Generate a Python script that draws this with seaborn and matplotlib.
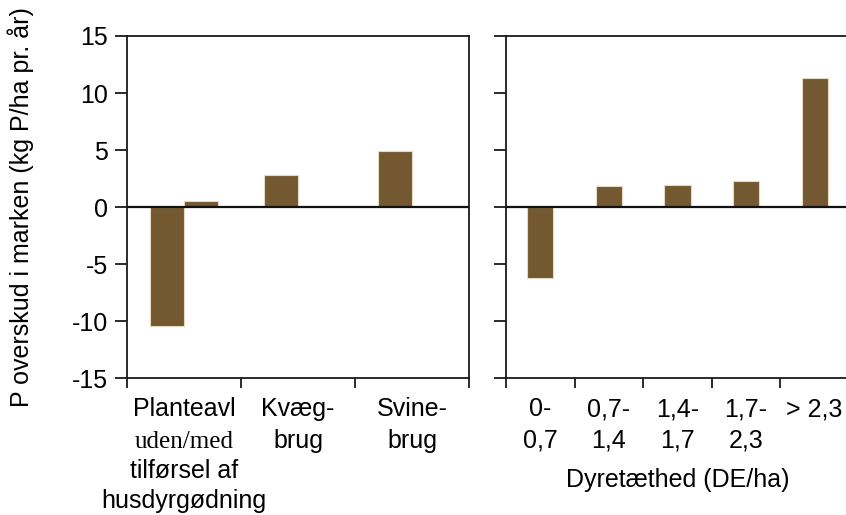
import matplotlib
matplotlib.use('Agg')
import matplotlib.pyplot as plt
import seaborn as sns
import pandas as pd

# Data
bedrift = ['Planteavl', 'Planteavl', 'Kvæg', 'Svine']
serie = ['uden', 'med', 'uden', 'uden']
overskud_bedrift = [-10.4, 0.5, 2.8, 4.9]
bedrift_labels = ['Planteavl', 'Kvæg-\nbrug', 'Svine-\nbrug']
# ekstra linjer under "Planteavl" (tekst, skrift)
planteavl_linjer = [('uden/med', 'serif'), ('tilførsel af', 'sans'), ('husdyrgødning', 'sans')]

dyretaethed = ['0-0,7', '0,7-1,4', '1,4-1,7', '1,7-2,3', '> 2,3']
overskud_dyr = [-6.2, 1.8, 1.9, 2.3, 11.3]
dyr_labels = ['0-\n0,7', '0,7-\n1,4', '1,4-\n1,7', '1,7-\n2,3', '> 2,3']

yticks = [-15, -10, -5, 0, 5, 10, 15]
brun = '#735830'
fs = 18

sns.set_theme(style='ticks')
plt.rcParams['font.family'] = ['Liberation Sans', 'DejaVu Sans']
plt.rcParams['axes.unicode_minus'] = False
plt.rcParams['axes.edgecolor'] = '#1a1a1a'
plt.rcParams['axes.linewidth'] = 1.3
plt.rcParams['text.color'] = 'black'
plt.rcParams['axes.labelcolor'] = 'black'
plt.rcParams['xtick.color'] = '#1a1a1a'
plt.rcParams['ytick.color'] = '#1a1a1a'
plt.rcParams['xtick.labelcolor'] = 'black'
plt.rcParams['ytick.labelcolor'] = 'black'

df1 = pd.DataFrame({'bedrift': bedrift, 'serie': serie, 'overskud': overskud_bedrift})
df2 = pd.DataFrame({'dyr': dyretaethed, 'overskud': overskud_dyr})

fig = plt.figure(figsize=(8.46, 5.15), dpi=100)
ax1 = fig.add_axes([0.1501, 0.2660, 0.4043, 0.6641])
ax2 = fig.add_axes([0.5981, 0.2660, 0.4054, 0.6641])

sns.barplot(data=df1, x='bedrift', y='overskud', hue='serie', hue_order=['uden', 'med'],
            palette=[brun, brun], width=0.59, ax=ax1, legend=False,
            edgecolor='#e6dac6', linewidth=0.8, errorbar=None)
sns.barplot(data=df2, x='dyr', y='overskud', color=brun, width=0.38, ax=ax2,
            edgecolor='#e6dac6', linewidth=0.8, errorbar=None, saturation=1)
for p in ax1.patches:
    p.set_facecolor(brun)

for ax, labels in [(ax1, bedrift_labels), (ax2, dyr_labels)]:
    n = len(labels)
    ax.set_xlim(-0.5, n - 0.5)
    ax.set_ylim(-15, 15)
    ax.set_yticks(yticks)
    ax.set_xticks([i - 0.5 for i in range(n + 1)])
    ax.set_xticklabels([])
    ax.set_xticks(range(n), minor=True)
    ax.set_xticklabels(labels, minor=True, fontsize=fs, linespacing=1.38)
    ax.tick_params(axis='x', which='major', length=7.5, width=1.3, direction='out')
    ax.tick_params(axis='x', which='minor', length=0, pad=14)
    ax.tick_params(axis='y', length=8.5, width=1.3, labelsize=fs, pad=5)
    ax.axhline(0, color='#111111', lw=1.6, zorder=3)
    for s in ax.spines.values():
        s.set_visible(True)
    ax.set_xlabel('')
    ax.set_ylabel('')

ax2.set_yticklabels([])

# resten af "Planteavl"-etiketten; 'uden/med' står med serif-skrift i originalen
for i, (tekst, skrift) in enumerate(planteavl_linjer):
    fam = ['Liberation Serif', 'DejaVu Serif'] if skrift == 'serif' else ['Liberation Sans', 'DejaVu Sans']
    ax1.annotate(tekst, xy=(0, 0), xycoords=('data', 'axes fraction'),
                 xytext=(0, -50.4 - 21.6 * i), textcoords='offset points',
                 ha='center', va='baseline', fontsize=fs, family=fam)

ax1.set_ylabel('P overskud i marken (kg P/ha pr. år)', fontsize=fs)
ax1.yaxis.set_label_coords(-0.272, 0.5)
ax2.set_xlabel('Dyretæthed (DE/ha)', fontsize=fs)
ax2.xaxis.set_label_coords(0.5, -0.262)

fig.savefig('out.png', dpi=100)
